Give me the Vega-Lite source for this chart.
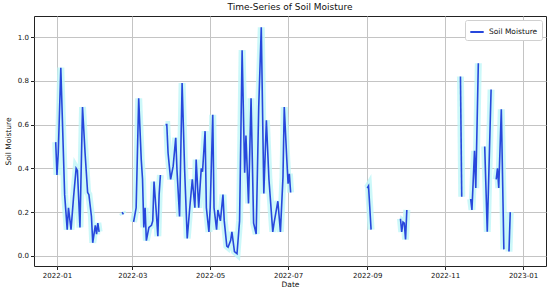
{
  "$schema": "https://vega.github.io/schema/vega-lite/v6.json",
  "width": 512,
  "height": 250,
  "autosize": {"type": "none"},
  "padding": {"left": 34, "top": 16, "right": 4, "bottom": 26},
  "background": "white",
  "title": {"text": "Time-Series of Soil Moisture", "fontSize": 9, "font": "DejaVu Sans", "fontWeight": "normal", "color": "#111", "offset": 1, "anchor": "middle", "frame": "group"},
  "config": {
    "font": "DejaVu Sans",
    "view": {"stroke": "#222", "strokeWidth": 1},
    "axis": {"labelFont": "DejaVu Sans", "titleFont": "DejaVu Sans", "labelFontSize": 7, "titleFontSize": 7.5, "titleFontWeight": "normal", "labelColor": "#111", "titleColor": "#111", "gridColor": "#c4c4c4", "gridWidth": 1, "tickColor": "#222", "tickSize": 3.5, "domain": false}
  },
  "data": {"values": [
    {"date": "2021-12-31", "v": 0.52, "segment": 1},
    {"date": "2022-01-01", "v": 0.37, "segment": 1},
    {"date": "2022-01-02", "v": 0.47, "segment": 1},
    {"date": "2022-01-04", "v": 0.86, "segment": 1},
    {"date": "2022-01-07", "v": 0.28, "segment": 1},
    {"date": "2022-01-09", "v": 0.12, "segment": 1},
    {"date": "2022-01-10", "v": 0.22, "segment": 1},
    {"date": "2022-01-12", "v": 0.12, "segment": 1},
    {"date": "2022-01-14", "v": 0.27, "segment": 1},
    {"date": "2022-01-16", "v": 0.40, "segment": 1},
    {"date": "2022-01-17", "v": 0.39, "segment": 1},
    {"date": "2022-01-19", "v": 0.13, "segment": 1},
    {"date": "2022-01-21", "v": 0.68, "segment": 1},
    {"date": "2022-01-23", "v": 0.47, "segment": 1},
    {"date": "2022-01-25", "v": 0.29, "segment": 1},
    {"date": "2022-01-26", "v": 0.28, "segment": 1},
    {"date": "2022-01-28", "v": 0.18, "segment": 1},
    {"date": "2022-01-29", "v": 0.06, "segment": 1},
    {"date": "2022-01-31", "v": 0.14, "segment": 1},
    {"date": "2022-02-01", "v": 0.10, "segment": 1},
    {"date": "2022-02-02", "v": 0.15, "segment": 1},
    {"date": "2022-02-03", "v": 0.11, "segment": 1},
    {"date": "2022-02-21", "v": 0.20, "segment": 2},
    {"date": "2022-02-22", "v": 0.19, "segment": 2},
    {"date": "2022-03-02", "v": 0.155, "segment": 3},
    {"date": "2022-03-04", "v": 0.22, "segment": 3},
    {"date": "2022-03-06", "v": 0.72, "segment": 3},
    {"date": "2022-03-08", "v": 0.44, "segment": 3},
    {"date": "2022-03-09", "v": 0.35, "segment": 3},
    {"date": "2022-03-10", "v": 0.13, "segment": 3},
    {"date": "2022-03-11", "v": 0.22, "segment": 3},
    {"date": "2022-03-12", "v": 0.07, "segment": 3},
    {"date": "2022-03-14", "v": 0.13, "segment": 3},
    {"date": "2022-03-16", "v": 0.14, "segment": 3},
    {"date": "2022-03-17", "v": 0.16, "segment": 3},
    {"date": "2022-03-18", "v": 0.34, "segment": 3},
    {"date": "2022-03-20", "v": 0.18, "segment": 3},
    {"date": "2022-03-21", "v": 0.09, "segment": 3},
    {"date": "2022-03-22", "v": 0.28, "segment": 3},
    {"date": "2022-03-23", "v": 0.37, "segment": 3},
    {"date": "2022-03-27", "v": 0.60, "segment": 4},
    {"date": "2022-03-28", "v": 0.60, "segment": 4},
    {"date": "2022-03-29", "v": 0.47, "segment": 4},
    {"date": "2022-03-31", "v": 0.35, "segment": 4},
    {"date": "2022-04-02", "v": 0.41, "segment": 4},
    {"date": "2022-04-04", "v": 0.54, "segment": 4},
    {"date": "2022-04-05", "v": 0.39, "segment": 4},
    {"date": "2022-04-07", "v": 0.18, "segment": 4},
    {"date": "2022-04-09", "v": 0.79, "segment": 4},
    {"date": "2022-04-11", "v": 0.39, "segment": 4},
    {"date": "2022-04-13", "v": 0.08, "segment": 4},
    {"date": "2022-04-15", "v": 0.22, "segment": 4},
    {"date": "2022-04-17", "v": 0.35, "segment": 4},
    {"date": "2022-04-19", "v": 0.22, "segment": 4},
    {"date": "2022-04-20", "v": 0.44, "segment": 4},
    {"date": "2022-04-22", "v": 0.22, "segment": 4},
    {"date": "2022-04-24", "v": 0.40, "segment": 4},
    {"date": "2022-04-25", "v": 0.385, "segment": 4},
    {"date": "2022-04-27", "v": 0.57, "segment": 4},
    {"date": "2022-04-28", "v": 0.22, "segment": 4},
    {"date": "2022-04-30", "v": 0.11, "segment": 4},
    {"date": "2022-05-01", "v": 0.22, "segment": 4},
    {"date": "2022-05-03", "v": 0.645, "segment": 4},
    {"date": "2022-05-04", "v": 0.22, "segment": 4},
    {"date": "2022-05-06", "v": 0.12, "segment": 4},
    {"date": "2022-05-07", "v": 0.21, "segment": 4},
    {"date": "2022-05-09", "v": 0.16, "segment": 4},
    {"date": "2022-05-11", "v": 0.28, "segment": 4},
    {"date": "2022-05-12", "v": 0.16, "segment": 4},
    {"date": "2022-05-14", "v": 0.045, "segment": 4},
    {"date": "2022-05-15", "v": 0.04, "segment": 4},
    {"date": "2022-05-17", "v": 0.07, "segment": 4},
    {"date": "2022-05-18", "v": 0.11, "segment": 4},
    {"date": "2022-05-20", "v": 0.02, "segment": 4},
    {"date": "2022-05-22", "v": 0.01, "segment": 4},
    {"date": "2022-05-24", "v": 0.16, "segment": 4},
    {"date": "2022-05-26", "v": 0.94, "segment": 4},
    {"date": "2022-05-28", "v": 0.38, "segment": 4},
    {"date": "2022-05-29", "v": 0.55, "segment": 4},
    {"date": "2022-05-31", "v": 0.24, "segment": 4},
    {"date": "2022-06-02", "v": 0.72, "segment": 4},
    {"date": "2022-06-04", "v": 0.15, "segment": 4},
    {"date": "2022-06-06", "v": 0.10, "segment": 4},
    {"date": "2022-06-08", "v": 0.68, "segment": 4},
    {"date": "2022-06-10", "v": 1.044, "segment": 4},
    {"date": "2022-06-12", "v": 0.285, "segment": 4},
    {"date": "2022-06-14", "v": 0.62, "segment": 4},
    {"date": "2022-06-16", "v": 0.35, "segment": 4},
    {"date": "2022-06-19", "v": 0.11, "segment": 4},
    {"date": "2022-06-20", "v": 0.15, "segment": 4},
    {"date": "2022-06-23", "v": 0.25, "segment": 4},
    {"date": "2022-06-25", "v": 0.11, "segment": 4},
    {"date": "2022-06-27", "v": 0.36, "segment": 4},
    {"date": "2022-06-28", "v": 0.68, "segment": 4},
    {"date": "2022-06-30", "v": 0.44, "segment": 4},
    {"date": "2022-07-01", "v": 0.33, "segment": 4},
    {"date": "2022-07-02", "v": 0.375, "segment": 4},
    {"date": "2022-07-03", "v": 0.29, "segment": 4},
    {"date": "2022-09-01", "v": 0.31, "segment": 5},
    {"date": "2022-09-02", "v": 0.32, "segment": 5},
    {"date": "2022-09-04", "v": 0.12, "segment": 5},
    {"date": "2022-09-27", "v": 0.17, "segment": 6},
    {"date": "2022-09-28", "v": 0.11, "segment": 6},
    {"date": "2022-09-29", "v": 0.155, "segment": 6},
    {"date": "2022-09-30", "v": 0.15, "segment": 6},
    {"date": "2022-10-01", "v": 0.075, "segment": 6},
    {"date": "2022-10-02", "v": 0.21, "segment": 6},
    {"date": "2022-11-13", "v": 0.82, "segment": 7},
    {"date": "2022-11-14", "v": 0.27, "segment": 7},
    {"date": "2022-11-21", "v": 0.26, "segment": 8},
    {"date": "2022-11-22", "v": 0.21, "segment": 8},
    {"date": "2022-11-24", "v": 0.48, "segment": 8},
    {"date": "2022-11-25", "v": 0.31, "segment": 8},
    {"date": "2022-11-27", "v": 0.88, "segment": 8},
    {"date": "2022-12-02", "v": 0.50, "segment": 9},
    {"date": "2022-12-04", "v": 0.11, "segment": 9},
    {"date": "2022-12-07", "v": 0.76, "segment": 9},
    {"date": "2022-12-11", "v": 0.35, "segment": 10},
    {"date": "2022-12-12", "v": 0.40, "segment": 10},
    {"date": "2022-12-13", "v": 0.31, "segment": 10},
    {"date": "2022-12-15", "v": 0.67, "segment": 10},
    {"date": "2022-12-17", "v": 0.03, "segment": 10},
    {"date": "2022-12-21", "v": 0.02, "segment": 11},
    {"date": "2022-12-22", "v": 0.20, "segment": 11}
  ]},
  "encoding": {
    "x": {
      "field": "date", "type": "temporal",
      "scale": {"type": "utc", "domain": [{"year": 2021, "month": 12, "date": 14, "utc": true}, {"year": 2023, "month": 1, "date": 19, "utc": true}], "nice": false},
      "axis": {
        "title": "Date", "labelExpr": "utcFormat(datum.value, '%Y-%m')", "labelPadding": 2, "titlePadding": 2, "labelAngle": 0,
        "values": [
          {"year": 2022, "month": 1, "date": 1, "utc": true},
          {"year": 2022, "month": 3, "date": 1, "utc": true},
          {"year": 2022, "month": 5, "date": 1, "utc": true},
          {"year": 2022, "month": 7, "date": 1, "utc": true},
          {"year": 2022, "month": 9, "date": 1, "utc": true},
          {"year": 2022, "month": 11, "date": 1, "utc": true},
          {"year": 2023, "month": 1, "date": 1, "utc": true}
        ]
      }
    },
    "y": {
      "field": "v", "type": "quantitative",
      "scale": {"domain": [-0.046, 1.096], "nice": false, "zero": false},
      "axis": {"title": "Soil Moisture", "values": [0, 0.2, 0.4, 0.6, 0.8, 1.0], "format": ".1f", "labelPadding": 2, "titlePadding": 5}
    },
    "detail": {"field": "segment", "type": "nominal"}
  },
  "layer": [
    {
      "mark": {"type": "line", "color": "#bff6f8", "strokeWidth": 7, "opacity": 0.8, "strokeJoin": "miter", "strokeCap": "butt"}
    },
    {
      "mark": {"type": "line", "strokeWidth": 1.6},
      "encoding": {
        "color": {
          "datum": "Soil Moisture",
          "scale": {"range": ["#2747dc"]},
          "legend": {"title": null, "orient": "top-right", "offset": 4, "symbolType": "stroke", "symbolStrokeWidth": 2, "symbolSize": 180, "labelFontSize": 7.5, "labelFont": "DejaVu Sans", "labelColor": "#111", "strokeColor": "#d0d0d0", "fillColor": "white", "padding": 4, "cornerRadius": 2}
        }
      }
    }
  ]
}
